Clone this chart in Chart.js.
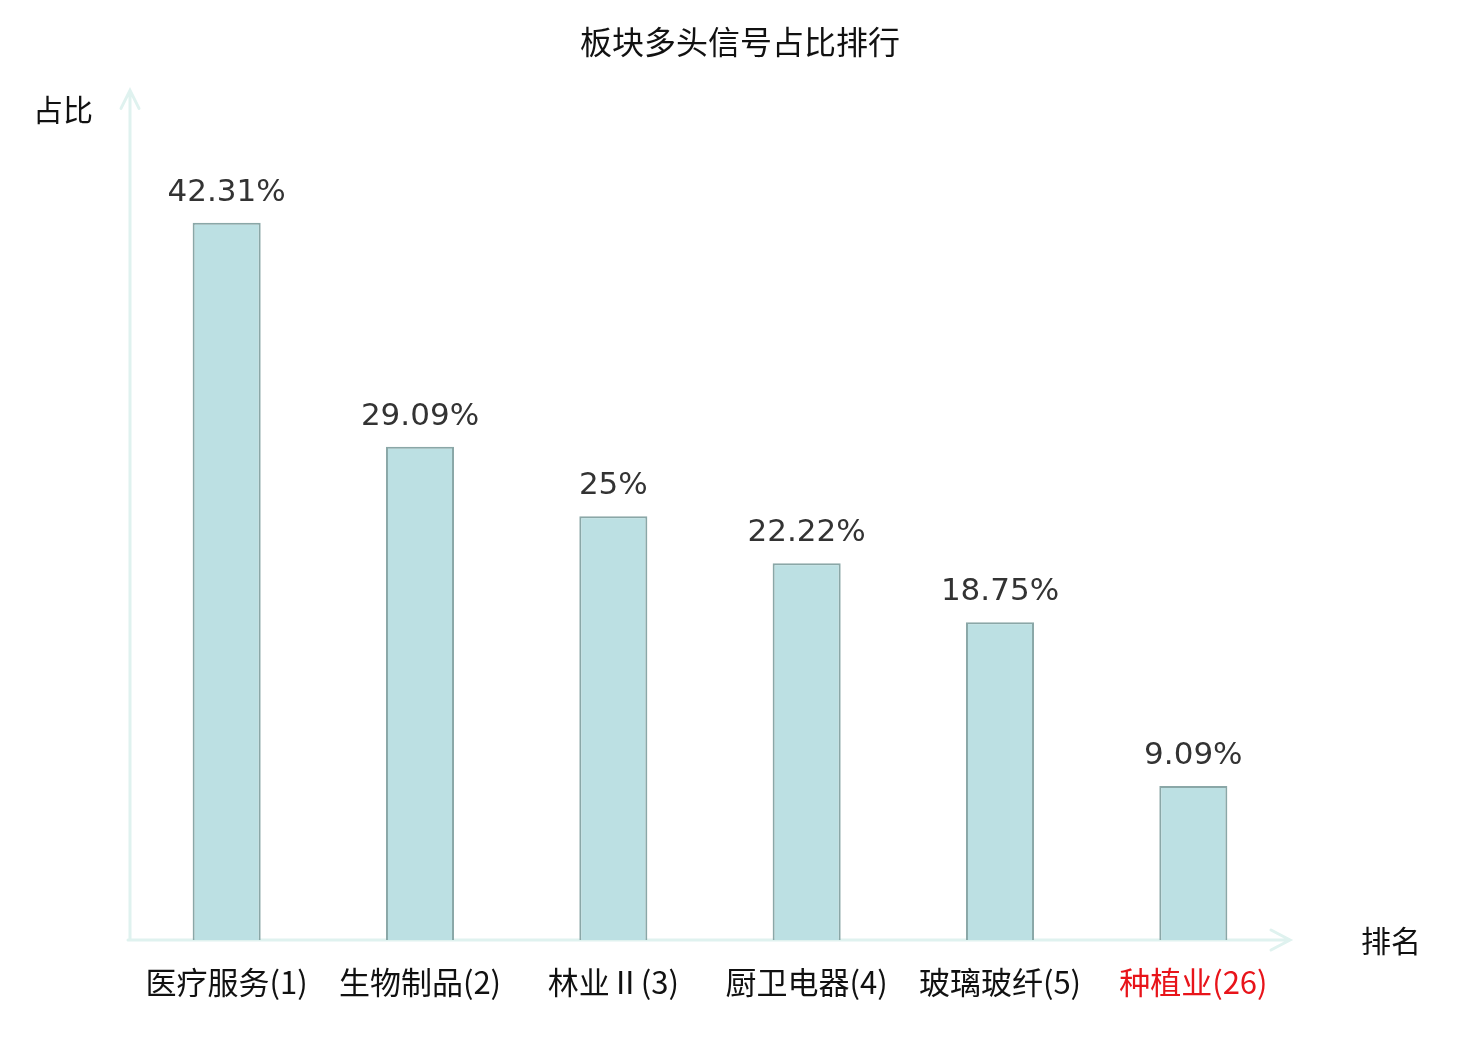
<!DOCTYPE html>
<html>
<head>
<meta charset="utf-8">
<script src="https://cdn.jsdelivr.net/npm/chart.js@4/dist/chart.umd.min.js"></script>
<style>
  body { margin: 0; background: #fff; }
  #wrap { width: 1480px; height: 1040px; position: relative; }
</style>
</head>
<body>
<div id="wrap"><canvas id="chart"></canvas></div>
<script>
const categories = ['医疗服务(1)', '生物制品(2)', '林业Ⅱ(3)', '厨卫电器(4)', '玻璃玻纤(5)', '种植业(26)'];
const shares = [42.31, 29.09, 25, 22.22, 18.75, 9.09];
const valueLabels = ['42.31%', '29.09%', '25%', '22.22%', '18.75%', '9.09%'];
const highlightIndex = 5;

const cjkFont = '"Noto Sans CJK SC", "Noto Sans", sans-serif';
const axisColor = '#dff2ef';

// axes with arrow heads, plus the axis names
const arrowAxes = {
  id: 'arrowAxes',
  beforeDatasetsDraw(chart) {
    const { ctx, chartArea: a } = chart;
    const top = a.top - 2;
    const right = a.right;
    ctx.save();
    ctx.strokeStyle = axisColor;
    ctx.lineWidth = 3;
    ctx.lineCap = 'round';
    ctx.beginPath();
    ctx.moveTo(a.left, a.bottom);
    ctx.lineTo(a.left, top);
    ctx.moveTo(a.left - 9, top + 18);
    ctx.lineTo(a.left, top);
    ctx.lineTo(a.left + 9, top + 18);
    ctx.moveTo(a.left - 2, a.bottom);
    ctx.lineTo(right, a.bottom);
    ctx.moveTo(right - 19, a.bottom - 10);
    ctx.lineTo(right, a.bottom);
    ctx.lineTo(right - 19, a.bottom + 10);
    ctx.stroke();

    ctx.fillStyle = '#111';
    ctx.font = '30px ' + cjkFont;
    ctx.textAlign = 'center';
    ctx.textBaseline = 'middle';
    ctx.fillText('占比', 63, 110);
    ctx.fillText('排名', 1391, 941);
    ctx.restore();
  }
};

// percentage text above each bar
const barValues = {
  id: 'barValues',
  afterDatasetsDraw(chart) {
    const { ctx } = chart;
    const meta = chart.getDatasetMeta(0);
    ctx.save();
    ctx.fillStyle = '#333';
    ctx.font = '31px "DejaVu Sans", sans-serif';
    ctx.textAlign = 'center';
    ctx.textBaseline = 'middle';
    meta.data.forEach((bar, i) => {
      ctx.fillText(valueLabels[i], bar.x, bar.y - 30);
    });
    ctx.restore();
  }
};

new Chart(document.getElementById('chart'), {
  type: 'bar',
  data: {
    labels: categories,
    datasets: [{
      data: shares,
      backgroundColor: '#bce0e3',
      borderColor: '#8aa7a7',
      borderWidth: 2,
      barPercentage: 0.352,
      categoryPercentage: 1
    }]
  },
  options: {
    responsive: true,
    maintainAspectRatio: false,
    animation: false,
    devicePixelRatio: 1,
    layout: { padding: 0 },
    plugins: {
      legend: { display: false },
      tooltip: { enabled: false },
      title: {
        display: true,
        text: '板块多头信号占比排行',
        color: '#111',
        font: { family: cjkFont, size: 32, weight: 'normal' },
        padding: { top: 23, bottom: 31 }
      }
    },
    scales: {
      y: {
        min: 0,
        max: 50,
        grid: { display: false },
        border: { display: false },
        ticks: { display: false },
        afterFit(scale) { scale.width = 130; }
      },
      yRight: {
        position: 'right',
        grid: { display: false },
        border: { display: false },
        ticks: { display: false },
        afterFit(scale) { scale.width = 190; }
      },
      x: {
        grid: { display: false, drawTicks: false },
        border: { display: false },
        ticks: {
          padding: 24,
          maxRotation: 0,
          autoSkip: false,
          font: { family: cjkFont, size: 31, weight: 'normal' },
          color: (c) => c.index === highlightIndex ? '#e8141a' : '#111'
        },
        afterFit(scale) { scale.height = 100; }
      }
    }
  },
  plugins: [arrowAxes, barValues]
});
</script>
</body>
</html>
